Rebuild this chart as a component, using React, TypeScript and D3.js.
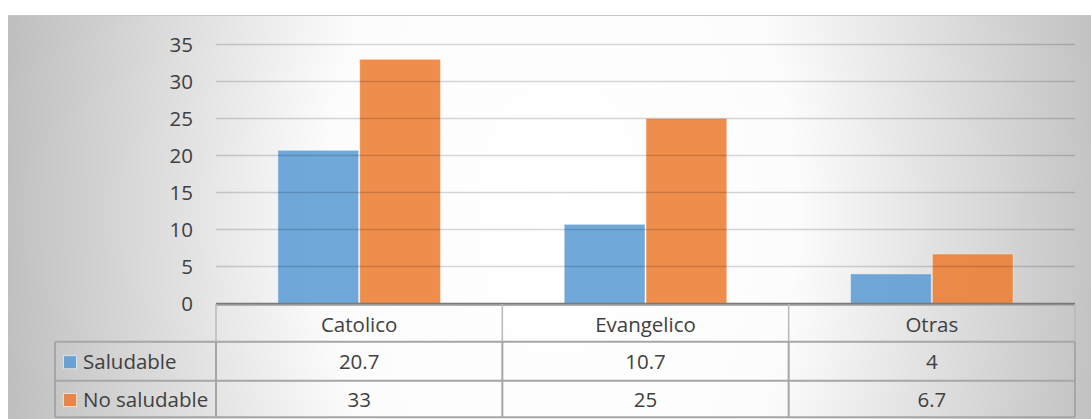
import React from "react";
import * as d3 from "d3";

const categories = ["Catolico", "Evangelico", "Otras"];
const seriesNames = ["Saludable", "No saludable"];
const saludable = [20.7, 10.7, 4];
const noSaludable = [33, 25, 6.7];
const seriesColors = ["#5b9bd5", "#ed7d31"];
const yTicks = [0, 5, 10, 15, 20, 25, 30, 35];

const W = 1091;
const H = 419;
const FONT = "'Open Sans', Lato, sans-serif";
const FS = 20.5;
const TEXT = "#404040";

export default function App() {
  const values = [saludable, noSaludable];
  const plotLeft = 216;
  const plotRight = 1075;
  const y = d3.scaleLinear().domain([0, 35]).range([303.5, 44.5]);
  const x = d3
    .scaleBand<string>()
    .domain(categories)
    .range([plotLeft, plotRight])
    .paddingInner(1.5 / 3.5)
    .paddingOuter(1.5 / 7);
  const xs = d3.scaleBand<string>().domain(seriesNames).range([0, x.bandwidth()]);
  const colW = (plotRight - plotLeft) / categories.length;
  const rowTop = [305, 341.7, 380.7];
  const rowBot = 417.3;
  const legendLeft = 55;
  const lineColor = "#a6a6a6";

  return (
    <svg
      width={W}
      height={H}
      style={{ position: "absolute", left: 0, top: 0, display: "block" }}
      fontFamily={FONT}
    >
      <defs>
        <radialGradient
          id="bg"
          gradientUnits="userSpaceOnUse"
          cx={560}
          cy={217}
          r={560}
          gradientTransform="translate(560 217) scale(1 1.6) translate(-560 -217)"
        >
          <stop offset="0" stopColor="#ffffff" />
          <stop offset="0.42" stopColor="#fcfcfc" />
          <stop offset="1" stopColor="#bfbfbf" />
        </radialGradient>
      </defs>
      <rect x={0} y={0} width={W} height={H} fill="#ffffff" />
      <rect x={8} y={15} width={W} height={H} fill="url(#bg)" />
      <line x1={8} x2={W} y1={15.5} y2={15.5} stroke="#c8c8c8" strokeWidth={1} />

      {/* bars */}
      {categories.map((c, i) =>
        seriesNames.map((s, j) => {
          const v = values[j][i];
          const bx = (x(c) as number) + (xs(s) as number);
          return (
            <rect
              key={c + s}
              x={bx + 0.5}
              y={y(v)}
              width={xs.bandwidth() - 1}
              height={y(0) - y(v)}
              fill={seriesColors[j]}
              fillOpacity={0.87}
              stroke="#ffffff"
              strokeOpacity={0.45}
              strokeWidth={1}
            />
          );
        })
      )}

      {/* gridlines */}
      {yTicks
        .filter((t) => t > 0)
        .map((t) => (
          <line
            key={t}
            x1={plotLeft}
            x2={plotRight}
            y1={y(t)}
            y2={y(t)}
            stroke="#000000"
            strokeOpacity={0.16}
            strokeWidth={1.3}
          />
        ))}

      {/* y tick labels */}
      {yTicks.map((t) => (
        <text
          key={t}
          x={193}
          y={y(t)}
          dy="0.35em"
          textAnchor="end"
          fontSize={FS}
          fill={TEXT}
        >
          {t}
        </text>
      ))}

      {/* axis line */}
      <line x1={plotLeft} x2={plotRight} y1={303.8} y2={303.8} stroke="#7a7a7a" strokeWidth={2} />
      <line x1={plotLeft} x2={plotRight} y1={305.5} y2={305.5} stroke="#b0b0b0" strokeWidth={1} />

      {/* table lines */}
      {[rowTop[1], rowTop[2], rowBot].map((ry, k) => (
        <line key={"h" + k} x1={legendLeft} x2={plotRight} y1={ry} y2={ry} stroke={lineColor} strokeWidth={2} />
      ))}
      <line x1={legendLeft} x2={legendLeft} y1={rowTop[1]} y2={rowBot} stroke={lineColor} strokeWidth={2} />
      {d3.range(categories.length + 1).map((k) => {
        const vx = plotLeft + k * colW;
        return (
          <g key={"v" + k}>
            <line x1={vx} x2={vx} y1={304} y2={rowTop[1]} stroke="#b8b8b8" strokeWidth={1.5} />
            <line x1={vx} x2={vx} y1={rowTop[1]} y2={rowBot} stroke={lineColor} strokeWidth={2} />
          </g>
        );
      })}

      {/* header labels */}
      {categories.map((c, i) => (
        <text
          key={c}
          x={plotLeft + (i + 0.5) * colW}
          y={(rowTop[0] + rowTop[1]) / 2 + 1}
          dy="0.35em"
          textAnchor="middle"
          fontSize={FS}
          fill={TEXT}
        >
          {c}
        </text>
      ))}

      {/* data rows */}
      {seriesNames.map((s, j) => {
        const top = rowTop[j + 1];
        const bot = j === 0 ? rowTop[2] : rowBot;
        const cy = (top + bot) / 2 + 1;
        return (
          <g key={s}>
            <rect
              x={63.5}
              y={cy - 6.5}
              width={13}
              height={13}
              fill={seriesColors[j]}
              fillOpacity={0.87}
              stroke="#ffffff"
              strokeOpacity={0.6}
              strokeWidth={1}
            />
            <text x={83} y={cy} dy="0.35em" fontSize={FS} fill={TEXT}>
              {s}
            </text>
            {categories.map((c, i) => (
              <text
                key={c}
                x={plotLeft + (i + 0.5) * colW}
                y={cy}
                dy="0.35em"
                textAnchor="middle"
                fontSize={FS}
                fill={TEXT}
              >
                {String(values[j][i])}
              </text>
            ))}
          </g>
        );
      })}
    </svg>
  );
}
